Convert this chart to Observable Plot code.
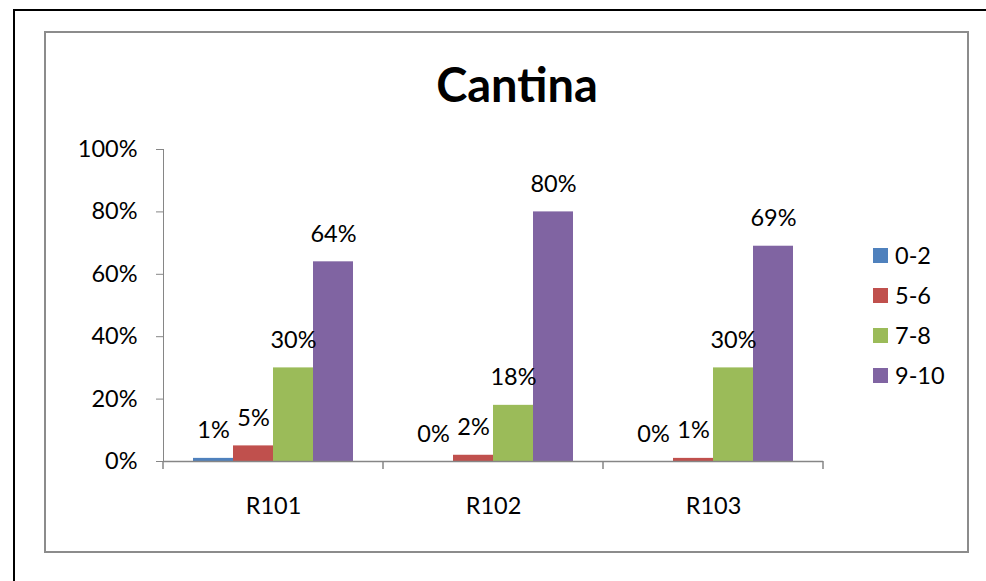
<!DOCTYPE html>
<html>
<head>
<meta charset="utf-8">
<script src="https://cdn.jsdelivr.net/npm/d3@7"></script>
<script src="https://cdn.jsdelivr.net/npm/@observablehq/plot@0.6"></script>
<style>
  html, body { margin: 0; padding: 0; background: #fff; overflow: hidden; }
  #wrap { position: relative; width: 986px; height: 581px; font-family: Lato, "Open Sans", sans-serif; }
  #outer { position: absolute; left: 13px; top: 9px; width: 1000px; height: 600px; border-left: 2px solid #000; border-top: 2px solid #000; box-sizing: border-box; }
  #inner { position: absolute; left: 44px; top: 31px; width: 925px; height: 522px; border: 2px solid #8c8c8c; box-sizing: border-box; }
  #title { position: absolute; left: 0; width: 1034px; top: 56px; text-align: center; font-weight: bold; font-size: 47px; color: #000; }
  #chart { position: absolute; left: 0; top: 0; }
  #chart svg { color: #868686; }
  #chart svg text { fill: #000; }
  #legend { position: absolute; left: 873px; top: 235px; font-size: 23.5px; color: #000; }
  .item { display: flex; align-items: center; height: 40px; }
  .sw { width: 15px; height: 15px; margin-right: 7px; }
</style>
</head>
<body>
<div id="wrap">
  <div id="outer"></div>
  <div id="inner"></div>
  <div id="chart"></div>
  <div id="title">Cantina</div>
  <div id="legend"></div>
</div>
<script>
const categories = ["R101", "R102", "R103"];
const series = ["0-2", "5-6", "7-8", "9-10"];
const colors = ["#4F81BD", "#C0504D", "#9BBB59", "#8064A2"];
const values_0_2 = [0.01, 0.00, 0.00];
const values_5_6 = [0.05, 0.02, 0.01];
const values_7_8 = [0.30, 0.18, 0.30];
const values_9_10 = [0.64, 0.80, 0.69];
const yTicks = [0, 0.2, 0.4, 0.6, 0.8, 1.0];
const yTickLabels = ["0%", "20%", "40%", "60%", "80%", "100%"];

const seriesValues = [values_0_2, values_5_6, values_7_8, values_9_10];
const data = [];
categories.forEach((c, i) => {
  series.forEach((s, j) => {
    data.push({category: c, series: s, value: seriesValues[j][i]});
  });
});

const fontSize = 23.5;
const chart = Plot.plot({
  width: 986,
  height: 581,
  marginLeft: 163,
  marginRight: 163,
  marginTop: 149,
  marginBottom: 120,
  style: {fontFamily: "Lato, 'Open Sans', sans-serif", fontSize: fontSize + "px", background: "transparent", overflow: "visible"},
  facet: {data, x: "category"},
  fx: {domain: categories, padding: 0, label: null, tickSize: 0, tickPadding: 36},
  x: {domain: series, paddingInner: 0, paddingOuter: 0.75, axis: null},
  y: {domain: [0, 1], ticks: yTicks, tickFormat: d => yTickLabels[yTicks.indexOf(d)], tickSize: 7, tickPadding: 19, line: true, label: null},
  color: {domain: series, range: colors},
  marks: [
    Plot.barY(data, {x: "series", y: "value", fill: "series"}),
    Plot.ruleY([0], {stroke: "#868686", strokeWidth: 1.5}),
    Plot.text(data, {x: "series", y: "value", text: d => Math.round(d.value * 100) + "%", lineAnchor: "bottom", dy: -20, fill: "#000", fontSize: fontSize})
  ]
});
document.getElementById("chart").appendChild(chart);

// category boundary ticks on the x axis, from the plot's own scales
const fx = chart.scale("fx");
const ys = chart.scale("y");
const y0 = ys.range[0] + (ys.range[1] - ys.range[0]) * (0 - ys.domain[0]) / (ys.domain[1] - ys.domain[0]);
const n = fx.domain.length;
const step = (fx.range[1] - fx.range[0]) / n;
const edges = d3.range(n + 1).map(i => fx.range[0] + i * step);
d3.select(chart).append("g")
  .selectAll("line").data(edges).join("line")
  .attr("x1", d => d).attr("x2", d => d)
  .attr("y1", y0).attr("y2", y0 + 8)
  .attr("stroke", "#868686").attr("stroke-width", 1.5);

// legend
const legend = d3.select("#legend");
series.forEach((s, i) => {
  const item = legend.append("div").attr("class", "item");
  item.append("div").attr("class", "sw").style("background", colors[i]);
  item.append("span").text(s);
});
</script>
</body>
</html>
